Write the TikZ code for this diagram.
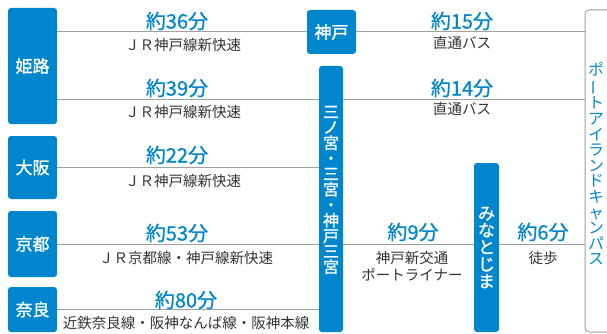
\documentclass[tikz,border=0pt]{standalone}
\usepackage{fontspec}
\setmainfont{Noto Sans CJK JP}
\newfontfamily\medio{Noto Sans CJK JP}[FakeBold=0.7]
\newfontfamily\forte{Noto Sans CJK JP}[FakeBold=1.4]
\usepackage{graphicx}
\usepackage{xcolor}
\usetikzlibrary{positioning,calc}
\definecolor{azul}{HTML}{0086CD}
\definecolor{linha}{HTML}{A0A0A0}
\definecolor{texto}{HTML}{333333}
\newcommand{\choon}{\rotatebox[origin=c]{90}{ー}}
\tikzset{
    estacao/.style={
        rectangle,
        fill=azul,
        rounded corners=3pt,
        text=white,
        align=center,
        inner sep=0pt,
        minimum width=49pt,
        font=\fontsize{17}{17}\forte
    },
    estacaoVertical/.style={estacao, minimum width=24pt},
    tate/.style={text=white, align=center, inner sep=0pt,
        font=\fontsize{16}{15.5}\forte},
    tempo/.style={text=azul, inner sep=0pt, font=\fontsize{20}{20}\medio},
    servico/.style={text=texto, inner sep=0pt, align=center,
        font=\fontsize{14.5}{17}\selectfont},
    trajeto/.style={draw=linha, line width=1pt},
    campus/.style={
        rectangle,
        draw=linha,
        line width=1pt,
        rounded corners=4pt,
        minimum width=26pt,
        minimum height=322pt
    }
}

\begin{document}
\begin{tikzpicture}[x=1pt, y=-1pt]
        \useasboundingbox (0,0) rectangle (607,334);

        % estacoes de origem
        \node[estacao, minimum height=116pt] (himeji) at (32.5,66) {姫路};
        \node[estacao, minimum height=63pt] (osaka) at (32.5,167.5) {大阪};
        \node[estacao, minimum height=66pt] (kyoto) at (32.5,244) {京都};
        \node[estacao, minimum height=45pt] (nara) at (32.5,309.5) {奈良};

        % estacoes de conexao
        \node[estacao, minimum height=44pt] (kobe) at (331.5,32) {神戸};
        \node[estacaoVertical, minimum height=266pt] (sannomiya) at (331,199) {};
        \node[tate] (sannomiyaTxt) at (331,190)
            {三\\ノ\\宮\\・\\三\\宮\\・\\神\\戸\\三\\宮};
        \node[estacaoVertical, minimum width=25pt, minimum height=169pt]
            (minato) at (486.5,247.5) {み\\な\\と\\じ\\ま};

        % destino
        \node[campus] (campus) at (598,171) {};
        \node[text=azul, align=center, inner sep=0pt,
            font=\fontsize{15.5}{15.6}\selectfont] (campusTxt) at (596,164)
            {ポ\\\choon\\ト\\ア\\イ\\ラ\\ン\\ド\\キ\\ャ\\ン\\パ\\ス};

        \coordinate (nivel2) at (0,100);

        \draw[trajeto] (himeji.east |- kobe) -- (kobe.west);
        \draw[trajeto] (kobe.east) -- (campus.west |- kobe);
        \draw[trajeto] (himeji.east |- nivel2) -- (sannomiya.west |- nivel2);
        \draw[trajeto] (sannomiya.east |- nivel2) -- (campus.west |- nivel2);
        \draw[trajeto] (osaka.east) -- (sannomiya.west |- osaka);
        \draw[trajeto] (kyoto.east) -- (sannomiya.west |- kyoto);
        \draw[trajeto] (sannomiya.east |- kyoto) -- (minato.west |- kyoto);
        \draw[trajeto] (minato.east |- kyoto) -- (campus.west |- kyoto);
        \draw[trajeto] (nara.east) -- (sannomiya.west |- nara);

        % tempos e linhas
        \node[tempo] (t36) at (177,21) {約36分};
        \node[servico] (s36) at (183,45) {ＪＲ神戸線新快速};
        \node[tempo] (t39) at (177,88) {約39分};
        \node[servico] (s39) at (183,112) {ＪＲ神戸線新快速};
        \node[tempo] (t22) at (177,155) {約22分};
        \node[servico] (s22) at (183,181) {ＪＲ神戸線新快速};
        \node[tempo] (t53) at (177,233) {約53分};
        \node[servico] (s53) at (186,258) {ＪＲ京都線・神戸線新快速};
        \node[tempo] (t80) at (186,300) {約80分};
        \node[servico] (s80) at (186,323) {近鉄奈良線・阪神なんば線・阪神本線};
        \node[tempo] (t15) at (462,21) {約15分};
        \node[servico] (s15) at (462,43) {直通バス};
        \node[tempo] (t14) at (462,88) {約14分};
        \node[servico] (s14) at (462,109) {直通バス};
        \node[tempo] (t9) at (413,232) {約9分};
        \node[servico] (s9) at (412,266) {神戸新交通\\ポートライナー};
        \node[tempo] (t6) at (543,232) {約6分};
        \node[servico] (s6) at (543,258) {徒歩};
    \end{tikzpicture}
\end{document}
